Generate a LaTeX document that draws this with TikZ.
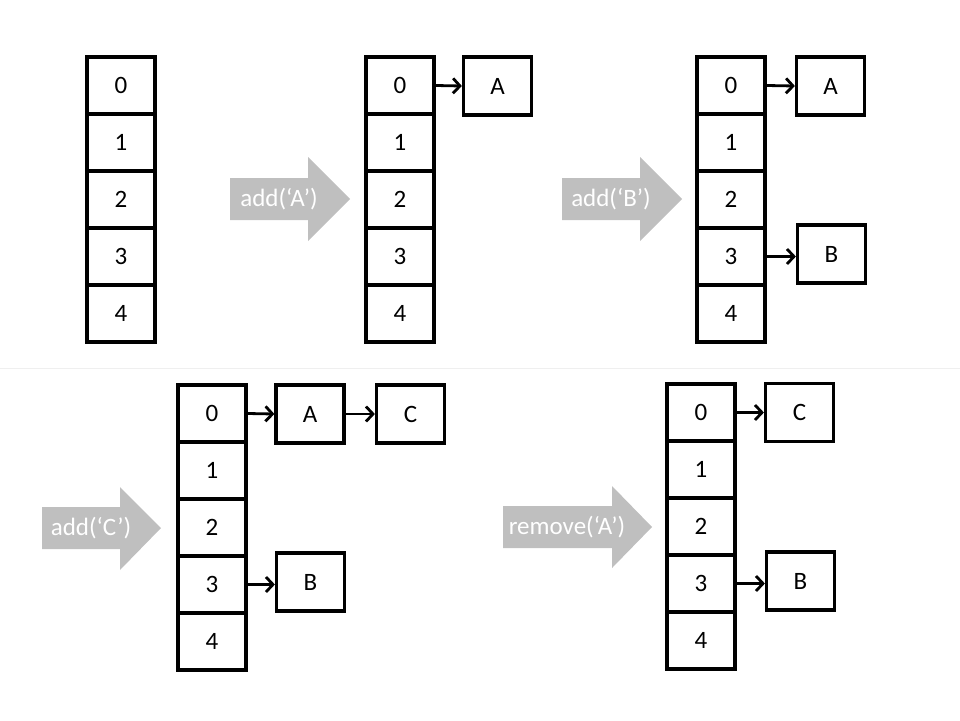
\documentclass[tikz,border=0pt]{standalone}
\usepackage{fontspec}
\setmainfont{Carlito}
\usetikzlibrary{arrows.meta}

\definecolor{opgray}{HTML}{BFBFBF}
\definecolor{rulegray}{HTML}{EFEFEF}

\tikzset{
	cell/.style={draw, line width=3.2pt, minimum width=68pt, minimum height=57pt,
		inner sep=0pt, font=\fontsize{25}{30}\selectfont},
	entry/.style={cell, minimum height=58pt},
	link/.style={line width=2.8pt, -{Straight Barb[length=7pt,width=15pt]}},
	opfill/.style={fill=opgray},
	oplabel/.style={text=white, font=\fontsize{25}{30}\selectfont, inner sep=0pt}
}

\begin{document}
\begin{tikzpicture}[x=1pt,y=-1pt]
	\useasboundingbox (0,0) rectangle (960,720);
	% divider
	\draw[rulegray, line width=1pt] (0,368) -- (960,368);

	% empty table
	\foreach \i in {0,...,4}
		\node[cell] (c1-\i) at (121,{85.5+57*\i}) {\i};

	% add A
	\fill[opfill] (230,178) -- (308,178) -- (308,157) -- (350,199)
		-- (308,241) -- (308,220) -- (230,220) -- cycle;
	\node[oplabel] (op1) at (279,199) {add(‘A’)};
	\foreach \i in {0,...,4}
		\node[cell] (c2-\i) at (400,{85.5+57*\i}) {\i};
	\node[entry] (a2) at (497.5,86) {A};
	\draw[link] (c2-0.east) -- (a2.west);

	% add B
	\fill[opfill] (562,178) -- (640,178) -- (640,157) -- (682,199)
		-- (640,241) -- (640,220) -- (562,220) -- cycle;
	\node[oplabel] (op2) at (611,199) {add(‘B’)};
	\foreach \i in {0,...,4}
		\node[cell] (c3-\i) at (731,{85.5+57*\i}) {\i};
	\node[entry] (a3) at (830.5,86) {A};
	\node[entry] (b3) at (831.5,254) {B};
	\draw[link] (c3-0.east) -- (a3.west);
	\draw[link] (c3-3.east) -- (c3-3.east -| b3.west);

	% add C
	\fill[opfill] (42,507) -- (120,507) -- (120,487) -- (161,528)
		-- (120,570) -- (120,549) -- (42,549) -- cycle;
	\node[oplabel] (op3) at (91,528) {add(‘C’)};
	\foreach \i in {0,...,4}
		\node[cell] (c4-\i) at (212,{413.5+57*\i}) {\i};
	\node[entry] (a4) at (310,414) {A};
	\node[entry] (c4) at (410.5,414) {C};
	\node[entry] (b4) at (310.5,582) {B};
	\draw[link] (c4-0.east) -- (a4.west);
	\draw[link] (a4.east) -- (c4.west);
	\draw[link] (c4-3.east) -- (c4-3.east -| b4.west);

	% remove A
	\fill[opfill] (503,506) -- (612,506) -- (612,486) -- (652,527)
		-- (612,568) -- (612,548) -- (503,548) -- cycle;
	\node[oplabel] (op4) at (567,527) {remove(‘A’)};
	\foreach \i in {0,...,4}
		\node[cell] (c5-\i) at (701,{412.5+57*\i}) {\i};
	\node[entry] (c5) at (799.5,412.5) {C};
	\node[entry] (b5) at (800.5,581) {B};
	\draw[link] (c5-0.east) -- (c5.west);
	\draw[link] (c5-3.east) -- (c5-3.east -| b5.west);
\end{tikzpicture}
\end{document}
